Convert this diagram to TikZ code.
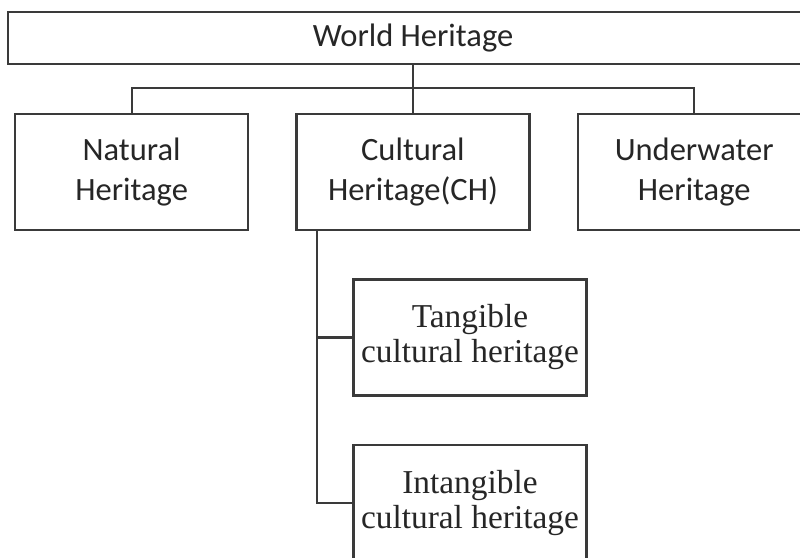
\documentclass[tikz,border=0pt]{standalone}
\usepackage{fontspec}
\usetikzlibrary{positioning}
\newfontfamily\calfont{Carlito}
\newfontfamily\timesfont{Liberation Serif}
\definecolor{linegray}{HTML}{3A3A3A}
\definecolor{textgray}{HTML}{262626}
\tikzset{
  box/.style={draw=linegray, line width=1.3pt, align=center, text=textgray, inner sep=0pt},
  sansbox/.style={box, font=\calfont\fontsize{18.5}{22.5}\selectfont, minimum width=4.66cm, minimum height=2.32cm},
  serifbox/.style={box, font=\timesfont\fontsize{19}{20}\selectfont, minimum width=4.66cm, minimum height=2.32cm},
  topbox/.style={box, font=\calfont\fontsize{18.5}{22.5}\selectfont, minimum width=16.2cm, minimum height=1.04cm},
  link/.style={draw=linegray, line width=1.3pt}
}
\begin{document}
\begin{tikzpicture}[node distance=0.94cm and 0.92cm]
\useasboundingbox (0,0) rectangle (16,-11.14);
\clip (0,0) rectangle (16,-11.14);
\fill[white] (0,0) rectangle (16,-11.14);
\node[topbox] (world) at (8.26,-0.76) {World Heritage};
\node[sansbox, anchor=north west] (natural) at (0.28,-2.26) {Natural\\Heritage};
\node[sansbox, right=of natural] (cultural) {Cultural\\Heritage(CH)};
\node[sansbox, right=of cultural] (underwater) {Underwater\\Heritage};
\node[serifbox, below=of cultural.south west, anchor=north west, xshift=1.14cm] (tangible) {Tangible\\cultural heritage};
\node[serifbox, below=of tangible] (intangible) {Intangible\\cultural heritage};
% tree links
\draw[link] (world.south -| cultural.north) -- (cultural.north);
\draw[link] (natural.north) -- ++(0,0.5) -| (underwater.north);
\draw[link] ([xshift=0.44cm]cultural.south west) |- (tangible.west);
\draw[link] ([xshift=0.44cm]cultural.south west) |- (intangible.west);
\end{tikzpicture}
\end{document}
